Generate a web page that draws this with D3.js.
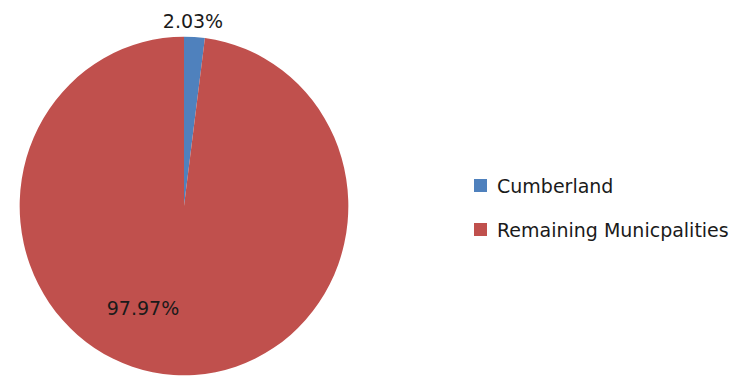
<!DOCTYPE html>
<html>
<head>
<meta charset="utf-8">
<script src="https://cdn.jsdelivr.net/npm/d3@7"></script>
<style>
  body { margin: 0; background: #fff; }
  text { font-family: "DejaVu Sans", sans-serif; fill: #1a1a1a; }
</style>
</head>
<body>
<svg width="748" height="379"></svg>
<script>
var categories = ["Cumberland", "Remaining Municpalities"];
var values = [2.03, 97.97];
var labels = ["2.03%", "97.97%"];
var colors = ["#4F81BD", "#C0504D"];

var svg = d3.select("svg");
var cx = 184, cy = 206, radius = 166;

var pie = d3.pie().sort(null).value(function(d) { return d; });
var arc = d3.arc().innerRadius(0).outerRadius(radius);

var g = svg.append("g")
    .attr("transform", "translate(" + cx + "," + cy + ") scale(0.99,1.02)");

var arcs = pie(values);

g.selectAll("path")
    .data(arcs)
    .enter()
    .append("path")
      .attr("d", arc)
      .attr("fill", function(d, i) { return colors[i]; });

// labels: small slice outside, big slice inside
var labelPos = [
  [193 - cx, 28 - cy],
  [143 - cx, 315 - cy]
];
svg.selectAll("text.lbl")
    .data(arcs)
    .enter()
    .append("text")
      .attr("class", "lbl")
      .attr("x", function(d, i) { return cx + labelPos[i][0]; })
      .attr("y", function(d, i) { return cy + labelPos[i][1]; })
      .attr("text-anchor", "middle")
      .style("font-size", "19px")
      .text(function(d, i) { return labels[i]; });

var legend = svg.append("g").attr("transform", "translate(474,179)");
var item = legend.selectAll("g")
    .data(categories)
    .enter()
    .append("g")
      .attr("transform", function(d, i) { return "translate(0," + (i * 44) + ")"; });
item.append("rect")
    .attr("width", 13).attr("height", 13)
    .attr("fill", function(d, i) { return colors[i]; });
item.append("text")
    .attr("x", 23).attr("y", 14)
    .style("font-size", "19px")
    .text(function(d) { return d; });
</script>
</body>
</html>
